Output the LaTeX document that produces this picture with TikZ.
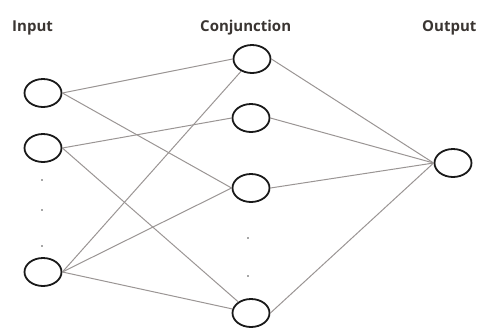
\documentclass[tikz,border=0pt]{standalone}
\usepackage{fontspec}
\setmainfont{Open Sans}
\usetikzlibrary{shapes.geometric}
\definecolor{txtc}{HTML}{3A3532}
\definecolor{linkc}{HTML}{9A9594}
\begin{document}
\begin{tikzpicture}[x=1pt,y=-1pt,
  neuron/.style={ellipse,draw=black!90,line width=1.8pt,minimum width=37pt,minimum height=28pt,inner sep=0pt},
  link/.style={draw=linkc,line width=1pt},
  dotmark/.style={circle,fill=black!70,inner sep=0pt,minimum size=1.8pt},
  title/.style={text=txtc,font=\fontsize{15}{17}\selectfont\bfseries,anchor=base west,inner sep=0pt}]
\useasboundingbox (0,0) rectangle (479,327);
\node[title] (tin) at (12,31) {Input};
\node[title] (tcj) at (200,31) {Conjunction};
\node[title] (tout) at (422,31) {Output};
\node[neuron] (i1) at (43,93) {};
\node[neuron] (i2) at (43,148) {};
\node[neuron] (i4) at (43,272) {};
\node[dotmark] (d1) at (42,180) {};
\node[dotmark] (d2) at (42,210) {};
\node[dotmark] (d3) at (42,246) {};
\node[neuron] (c1) at (252,59) {};
\node[neuron] (c2) at (251,118) {};
\node[neuron] (c3) at (251,188) {};
\node[neuron] (c4) at (251,313) {};
\node[dotmark] (d4) at (248,238) {};
\node[dotmark] (d5) at (248,276) {};
\node[neuron] (o) at (453,163) {};
\draw[link] (i1.east) -- (c1.west);
\draw[link] (i1.east) -- (c3.west);
\draw[link] (i2.east) -- (c2.west);
\draw[link] (i2.east) -- (c4);
\draw[link] (i4.east) -- (c1);
\draw[link] (i4.east) -- (c3.west);
\draw[link] (i4.east) -- (c4);
\draw[link] (c1.east) -- (o.west);
\draw[link] (c2.east) -- (o.west);
\draw[link] (c3.east) -- (o.west);
\draw[link] (c4.east) -- (o.west);
\end{tikzpicture}
\end{document}
